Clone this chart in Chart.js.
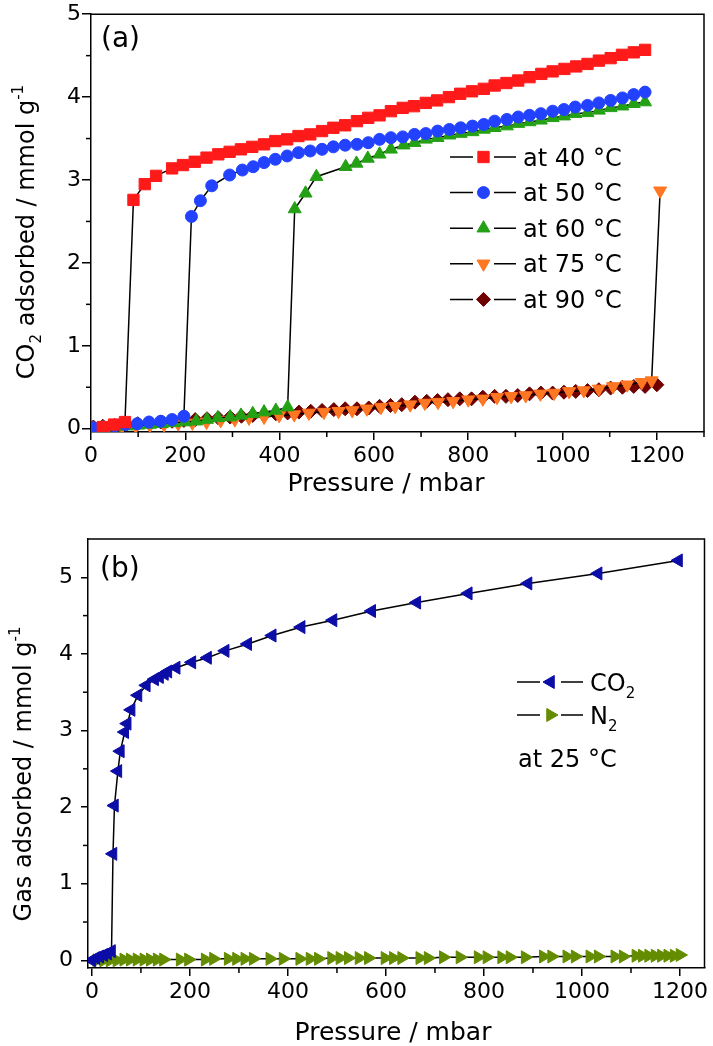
<!DOCTYPE html>
<html lang="en">
<head>
<meta charset="UTF-8">
<title>CO2 adsorption isotherms</title>
<script src="https://cdn.jsdelivr.net/npm/chart.js@4"></script>
<style>
  body { margin: 0; background: #fff; }
  canvas { position: absolute; left: 0; }
  #chartA { top: 0; }
  #chartB { top: 510px; }
</style>
</head>
<body>
<canvas id="chartA" width="713" height="510"></canvas>
<canvas id="chartB" width="713" height="536"></canvas>
<script>
// ---- panel (a): CO2 uptake at different temperatures (pressure in mbar, uptake in mmol/g)
const p40 = [25, 49, 72, 90, 114, 138, 172, 195, 220, 245, 270, 294, 318, 342, 367, 391, 416, 440, 465, 490, 514, 539, 564, 588, 612, 636, 661, 685, 710, 734, 759, 783, 808, 833, 856, 881, 906, 930, 955, 979, 1004, 1029, 1053, 1077, 1102, 1126, 1151, 1175];
const q40 = [0.02, 0.05, 0.08, 2.76, 2.95, 3.05, 3.14, 3.18, 3.22, 3.27, 3.31, 3.34, 3.37, 3.40, 3.43, 3.47, 3.49, 3.53, 3.55, 3.59, 3.63, 3.66, 3.71, 3.75, 3.78, 3.83, 3.87, 3.89, 3.93, 3.96, 4.00, 4.04, 4.07, 4.10, 4.14, 4.17, 4.20, 4.24, 4.28, 4.31, 4.34, 4.37, 4.40, 4.44, 4.47, 4.51, 4.54, 4.57];

const p50 = [5, 25, 50, 73, 98, 123, 148, 172, 197, 213, 232, 256, 294, 321, 344, 367, 391, 416, 440, 465, 490, 514, 539, 564, 588, 612, 636, 661, 686, 710, 735, 760, 784, 809, 833, 856, 882, 906, 930, 954, 979, 1003, 1027, 1053, 1077, 1102, 1127, 1151, 1175];
const q50 = [0.01, 0.02, 0.03, 0.05, 0.06, 0.08, 0.09, 0.11, 0.15, 2.56, 2.75, 2.93, 3.06, 3.12, 3.16, 3.21, 3.25, 3.29, 3.33, 3.35, 3.37, 3.40, 3.42, 3.43, 3.45, 3.49, 3.51, 3.52, 3.55, 3.56, 3.59, 3.61, 3.63, 3.65, 3.67, 3.71, 3.73, 3.76, 3.78, 3.80, 3.83, 3.85, 3.88, 3.90, 3.93, 3.96, 3.99, 4.03, 4.06];

const p60 = [5, 25, 50, 75, 100, 125, 150, 175, 200, 223, 246, 269, 295, 318, 343, 367, 392, 417, 432, 455, 478, 540, 563, 587, 612, 636, 663, 686, 710, 735, 760, 784, 809, 833, 856, 882, 906, 930, 954, 979, 1003, 1027, 1053, 1077, 1102, 1127, 1151, 1175];
const q60 = [0.00, 0.01, 0.02, 0.03, 0.04, 0.05, 0.06, 0.07, 0.08, 0.09, 0.11, 0.13, 0.14, 0.16, 0.18, 0.20, 0.22, 0.26, 2.65, 2.84, 3.04, 3.16, 3.20, 3.26, 3.31, 3.37, 3.42, 3.45, 3.49, 3.51, 3.54, 3.56, 3.58, 3.61, 3.63, 3.65, 3.68, 3.70, 3.72, 3.75, 3.77, 3.80, 3.81, 3.84, 3.87, 3.89, 3.92, 3.94];

const p75 = [5, 35, 65, 95, 125, 155, 185, 215, 245, 275, 305, 335, 367, 399, 431, 462, 494, 525, 554, 585, 615, 645, 677, 708, 736, 768, 800, 831, 861, 891, 922, 953, 982, 1014, 1045, 1077, 1107, 1137, 1168, 1189, 1207];
const q75 = [0.00, 0.01, 0.02, 0.03, 0.04, 0.05, 0.06, 0.07, 0.08, 0.10, 0.11, 0.13, 0.14, 0.16, 0.17, 0.19, 0.20, 0.21, 0.22, 0.24, 0.26, 0.27, 0.29, 0.31, 0.32, 0.33, 0.35, 0.36, 0.38, 0.39, 0.40, 0.42, 0.43, 0.45, 0.46, 0.48, 0.51, 0.53, 0.56, 0.58, 2.87];

const p90 = [5, 25, 50, 74, 99, 123, 148, 172, 197, 221, 246, 270, 295, 319, 343, 368, 392, 417, 441, 466, 490, 515, 539, 564, 589, 612, 635, 659, 687, 712, 735, 757, 782, 807, 831, 856, 880, 905, 930, 954, 979, 1003, 1028, 1053, 1077, 1102, 1127, 1151, 1175, 1200];
const q90 = [0.02, 0.03, 0.04, 0.05, 0.06, 0.07, 0.08, 0.09, 0.10, 0.11, 0.12, 0.13, 0.14, 0.15, 0.16, 0.17, 0.18, 0.19, 0.20, 0.21, 0.22, 0.23, 0.24, 0.24, 0.25, 0.27, 0.28, 0.29, 0.32, 0.33, 0.34, 0.35, 0.36, 0.36, 0.38, 0.39, 0.39, 0.40, 0.42, 0.43, 0.43, 0.44, 0.45, 0.46, 0.47, 0.49, 0.50, 0.51, 0.51, 0.53];

const xTicksA = [0, 200, 400, 600, 800, 1000, 1200];
const xMinorA = [100, 300, 500, 700, 900, 1100, 1300];
const yTicksA = [0, 1, 2, 3, 4, 5];
const yMinorA = [0.5, 1.5, 2.5, 3.5, 4.5];

// ---- panel (b): CO2 vs N2 at 25 C
const pCO2 = [0, 8, 16, 24, 32, 40, 43, 46, 53, 58, 67, 72, 80, 94, 111, 128, 138, 148, 155, 172, 204, 236, 272, 318, 368, 427, 492, 571, 663, 768, 890, 1033, 1197];
const qCO2 = [0.00, 0.03, 0.05, 0.07, 0.09, 0.12, 1.39, 2.02, 2.47, 2.73, 2.98, 3.09, 3.27, 3.46, 3.59, 3.67, 3.70, 3.74, 3.77, 3.82, 3.89, 3.95, 4.04, 4.13, 4.24, 4.35, 4.44, 4.56, 4.67, 4.79, 4.92, 5.05, 5.22];

const pN2 = [10, 24, 37, 51, 65, 78, 92, 106, 119, 133, 146, 180, 197, 231, 248, 278, 295, 312, 329, 363, 390, 424, 445, 462, 489, 506, 523, 545, 564, 598, 615, 632, 669, 686, 717, 751, 788, 806, 836, 853, 884, 921, 938, 969, 986, 1016, 1033, 1067, 1084, 1110, 1123, 1136, 1149, 1162, 1175, 1188, 1200];
const qN2 = [0.00, 0.00, 0.00, 0.00, 0.01, 0.01, 0.01, 0.01, 0.01, 0.01, 0.01, 0.01, 0.01, 0.01, 0.02, 0.02, 0.02, 0.02, 0.02, 0.02, 0.02, 0.02, 0.02, 0.02, 0.03, 0.03, 0.03, 0.03, 0.03, 0.03, 0.03, 0.03, 0.03, 0.03, 0.04, 0.04, 0.04, 0.04, 0.04, 0.04, 0.04, 0.05, 0.05, 0.05, 0.05, 0.05, 0.05, 0.05, 0.05, 0.06, 0.06, 0.06, 0.06, 0.06, 0.06, 0.06, 0.07];

const xTicksB = [0, 200, 400, 600, 800, 1000, 1200];
const xMinorB = [100, 300, 500, 700, 900, 1100];
const yTicksB = [0, 1, 2, 3, 4, 5];
const yMinorB = [0.5, 1.5, 2.5, 3.5, 4.5];

const FONT = "'DejaVu Sans', sans-serif";
Chart.defaults.font.family = FONT;
Chart.defaults.color = '#000';

const toPts = (xs, ys) => xs.map((x, i) => ({ x: x, y: ys[i] }));

function series(label, xs, ys, color, style, r, rot) {
    return {
        label: label,
        data: toPts(xs, ys),
        borderColor: '#000',
        borderWidth: 1.5,
        tension: 0,
        fill: false,
        pointStyle: style,
        pointRadius: r,
        pointHoverRadius: r,
        pointRotation: rot,
        pointBackgroundColor: color,
        pointBorderColor: color,
        pointBorderWidth: 1
    };
}

// rich text with sub/superscripts, centred (or left aligned) on x,y
function drawRich(ctx, parts, x, y, size, vertical, align) {
    ctx.save();
    ctx.translate(x, y);
    if (vertical) ctx.rotate(-Math.PI / 2);
    const fontOf = p => ((p.sub || p.sup) ? Math.round(size * 0.62) : size) + 'px ' + FONT;
    let total = 0;
    parts.forEach(p => { ctx.font = fontOf(p); total += ctx.measureText(p.t).width; });
    let cx = align === 'left' ? 0 : -total / 2;
    ctx.textAlign = 'left';
    ctx.textBaseline = 'alphabetic';
    const base = size * 0.36;
    parts.forEach(p => {
        ctx.font = fontOf(p);
        const dy = p.sub ? size * 0.3 : (p.sup ? -size * 0.45 : 0);
        ctx.fillText(p.t, cx, base + dy);
        cx += ctx.measureText(p.t).width;
    });
    ctx.restore();
}

function drawMarker(ctx, style, r, rot, color, x, y) {
    ctx.save();
    ctx.fillStyle = color;
    ctx.strokeStyle = color;
    ctx.lineWidth = 1;
    Chart.helpers.drawPoint(ctx, { pointStyle: style, radius: r, rotation: rot, borderWidth: 1 }, x, y);
    ctx.restore();
}

// frame, minor ticks, titles, legend, panel tag
function decor(cfg) {
    return {
        id: 'decor',
        afterDraw(chart) {
            const ctx = chart.ctx;
            const a = chart.chartArea;
            const xs = chart.scales.x, ys = chart.scales.y;
            ctx.save();
            ctx.strokeStyle = '#000';
            ctx.lineWidth = 1.5;
            ctx.beginPath();
            ctx.moveTo(a.left, a.top);
            ctx.lineTo(a.right, a.top);
            ctx.lineTo(a.right, a.bottom);
            ctx.stroke();

            cfg.minorX.forEach(v => {
                const px = xs.getPixelForValue(v);
                ctx.beginPath();
                ctx.moveTo(px, a.bottom);
                ctx.lineTo(px, a.bottom + 5);
                ctx.stroke();
            });
            cfg.minorY.forEach(v => {
                const py = ys.getPixelForValue(v);
                ctx.beginPath();
                ctx.moveTo(a.left - 5, py);
                ctx.lineTo(a.left, py);
                ctx.stroke();
            });

            ctx.fillStyle = '#000';
            drawRich(ctx, [{ t: 'Pressure / mbar' }], cfg.xTitle[0], cfg.xTitle[1], 25, false);
            drawRich(ctx, cfg.yTitle, cfg.yTitlePos[0], cfg.yTitlePos[1], 24, true);

            ctx.font = '28px ' + FONT;
            ctx.textAlign = 'left';
            ctx.textBaseline = 'middle';
            ctx.fillText(cfg.tag, cfg.tagPos[0], cfg.tagPos[1]);

            cfg.legend.forEach((row, i) => {
                const x0 = cfg.legendX, y = cfg.legendY + i * cfg.legendDy;
                ctx.strokeStyle = '#000';
                ctx.lineWidth = 1.5;
                ctx.beginPath();
                ctx.moveTo(x0, y); ctx.lineTo(x0 + 23, y);
                ctx.moveTo(x0 + 44, y); ctx.lineTo(x0 + 66, y);
                ctx.stroke();
                const ds = chart.data.datasets[row];
                drawMarker(ctx, ds.pointStyle, ds.pointRadius, ds.pointRotation, ds.pointBackgroundColor, x0 + 33.5, y);
                ctx.fillStyle = '#000';
                drawRich(ctx, cfg.legendText[i], x0 + 73, y, 24, false, 'left');
            });
            if (cfg.note) drawRich(ctx, cfg.note.parts, cfg.note.x, cfg.note.y, 24, false, 'left');
            ctx.restore();
        }
    };
}

function scales(xMin, xMax, xTicks, yMin, yMax, yTicks, yWidth, yPad, yTick) {
    const grid = { display: true, drawOnChartArea: false, drawTicks: true, color: '#000', lineWidth: 1.5 };
    return {
        x: {
            type: 'linear', min: xMin, max: xMax,
            afterBuildTicks: s => { s.ticks = xTicks.map(v => ({ value: v })); },
            afterFit: s => { s.height = 78; },
            ticks: { font: { size: 22 }, color: '#000', padding: 3, maxRotation: 0, autoSkip: false, callback: v => String(v) },
            grid: Object.assign({}, grid, { tickLength: 8 }),
            border: { display: true, color: '#000', width: 1.5 }
        },
        y: {
            type: 'linear', min: yMin, max: yMax,
            afterBuildTicks: s => { s.ticks = yTicks.map(v => ({ value: v })); },
            afterFit: s => { s.width = yWidth; },
            ticks: { font: { size: 22 }, color: '#000', padding: yPad, autoSkip: false, callback: v => String(v) },
            grid: Object.assign({}, grid, { tickLength: yTick }),
            border: { display: true, color: '#000', width: 1.5 }
        }
    };
}

const common = {
    responsive: false,
    animation: false,
    devicePixelRatio: 1,
    plugins: { legend: { display: false }, tooltip: { enabled: false } }
};

new Chart(document.getElementById('chartA'), {
    type: 'line',
    data: {
        datasets: [
            series('at 40 °C', p40, q40, '#ff1a1a', 'rect', 8, 0),
            series('at 50 °C', p50, q50, '#2342ff', 'circle', 6, 0),
            series('at 60 °C', p60, q60, '#24a015', 'triangle', 7.5, 0),
            series('at 75 °C', p75, q75, '#ff7722', 'triangle', 7.5, 180),
            series('at 90 °C', p90, q90, '#6e0000', 'rectRot', 7, 0)
        ]
    },
    options: Object.assign({}, common, {
        layout: { padding: { top: 13, right: 6, left: 0, bottom: 0 } },
        scales: scales(0, 1300, xTicksA, -0.04, 5, yTicksA, 91, 1, 9)
    }),
    plugins: [decor({
        minorX: xMinorA, minorY: yMinorA,
        xTitle: [386, 482],
        yTitle: [{ t: 'CO' }, { t: '2', sub: true }, { t: ' adsorbed / mmol g' }, { t: '-1', sup: true }],
        yTitlePos: [25, 232],
        tag: '(a)', tagPos: [101, 40],
        legendX: 450, legendY: 157, legendDy: 35.6,
        legend: [0, 1, 2, 3, 4],
        legendText: [[{ t: 'at 40 °C' }], [{ t: 'at 50 °C' }], [{ t: 'at 60 °C' }], [{ t: 'at 75 °C' }], [{ t: 'at 90 °C' }]]
    })]
});

new Chart(document.getElementById('chartB'), {
    type: 'line',
    data: {
        datasets: [
            series('CO2', pCO2, qCO2, '#0c0ca6', 'triangle', 7.5, -90),
            series('N2', pN2, qN2, '#648c00', 'triangle', 7.5, 90)
        ]
    },
    options: Object.assign({}, common, {
        layout: { padding: { top: 29, right: 8, left: 0, bottom: 0 } },
        scales: scales(-8, 1250, xTicksB, -0.1, 5.5, yTicksB, 88, 8, 7)
    }),
    plugins: [decor({
        minorX: xMinorB, minorY: yMinorB,
        xTitle: [393, 521],
        yTitle: [{ t: 'Gas adsorbed / mmol g' }, { t: '-1', sup: true }],
        yTitlePos: [22, 264],
        tag: '(b)', tagPos: [100, 60],
        legendX: 517, legendY: 172, legendDy: 33,
        legend: [0, 1],
        legendText: [[{ t: 'CO' }, { t: '2', sub: true }], [{ t: 'N' }, { t: '2', sub: true }]],
        note: { parts: [{ t: 'at 25 °C' }], x: 518, y: 248 }
    })]
});
</script>
</body>
</html>
